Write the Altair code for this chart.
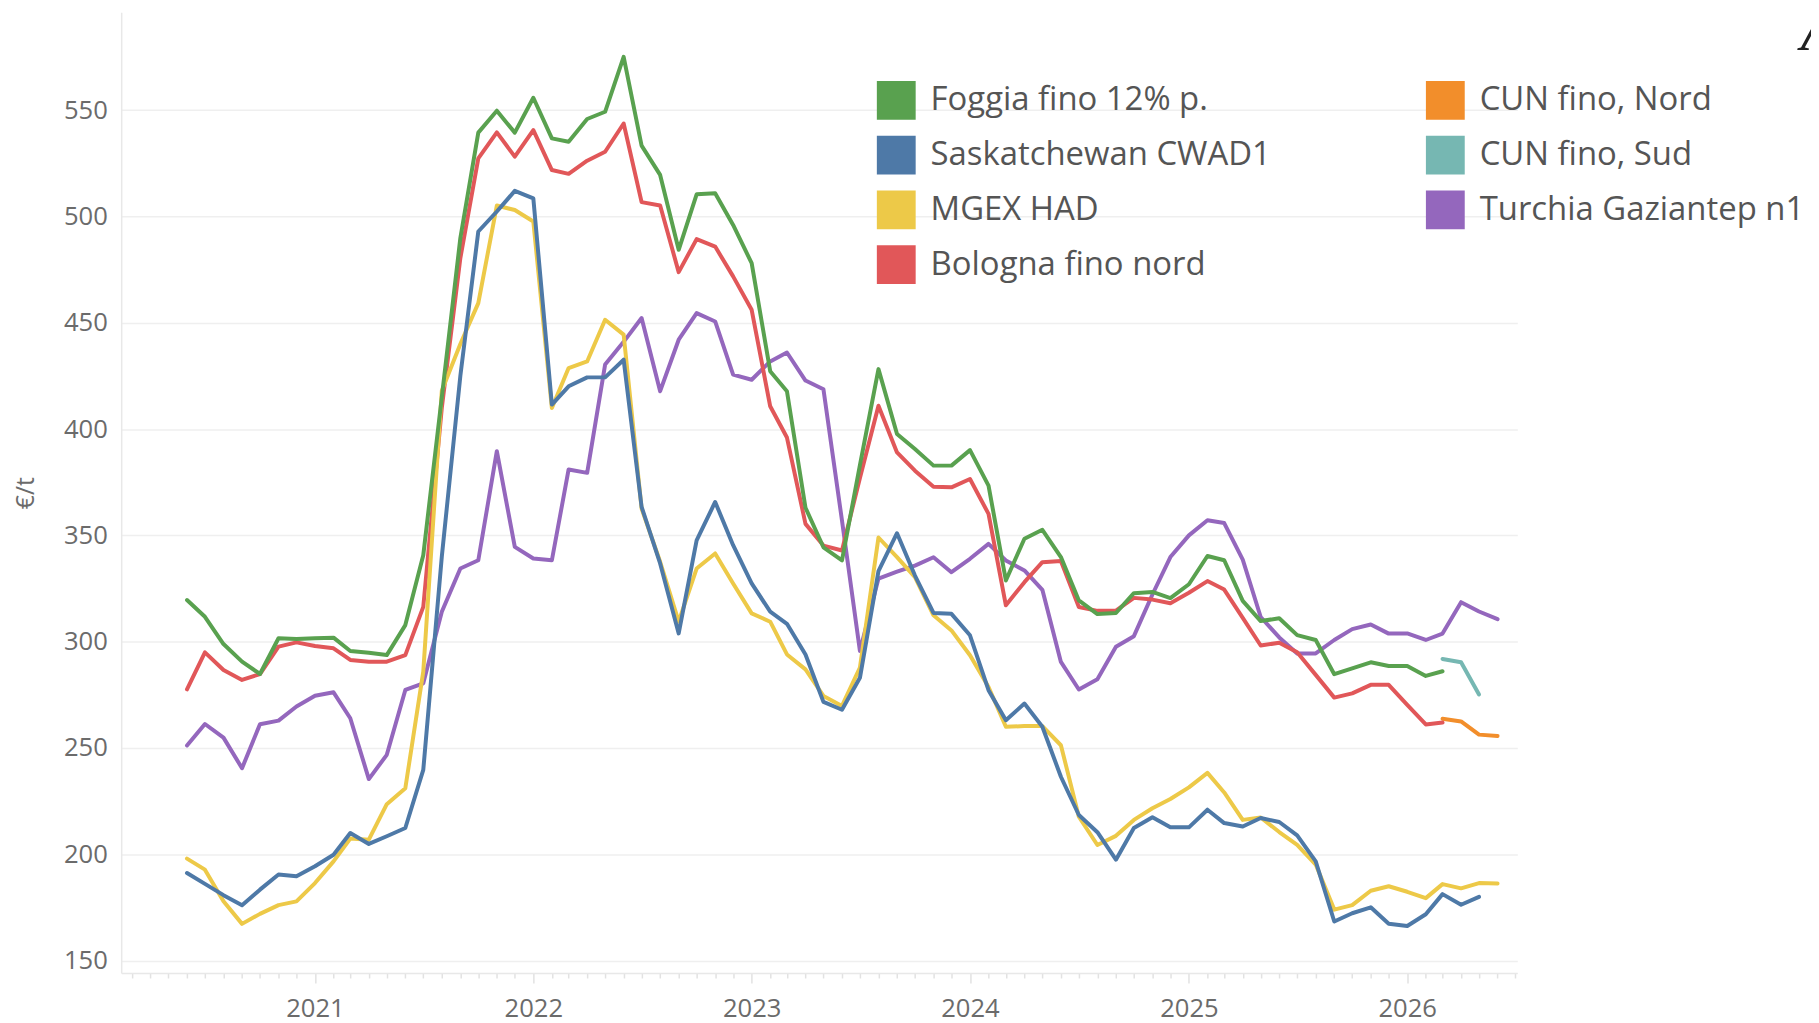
import altair as alt
import pandas as pd

# monthly observations, first month June 2020
start_month = "2020-06-01"
n_months = 73
months = pd.date_range(start_month, periods=n_months, freq="MS")

foggia = [319.6, 311.7, 298.9, 290.6, 284.8, 301.6, 301.3, 301.6, 301.9, 295.6, 294.8, 293.7,
          307.8, 340.7, 415, 489.8, 539.4, 549.7, 539.4, 555.8, 536.7, 535.1, 545.8, 549.2,
          575, 533.3, 519.5, 484.3, 510.4, 510.9, 496, 478, 427.2, 417.8, 363, 344.4,
          338.2, 383, 428.2, 397.7, 390.6, 382.8, 382.8, 390.1, 373.4, 328.8, 348.4, 352.6,
          339.8, 319.4, 313, 313.5, 322.8, 323.4, 320.5, 327, 340.3, 338.3, 319.2, 309.7,
          311, 303.1, 300.8, 284.7, 287.5, 290.3, 288.6, 288.6, 283.9, 286.1]
bologna = [277.6, 295, 286.7, 282, 284.8, 297.7, 299.7, 298, 296.9, 291.4, 290.6, 290.6,
           293.7, 316.4, 410, 480.4, 527.3, 539.5, 528.1, 540.6, 521.8, 520, 526.2, 530.4,
           543.7, 506.7, 505.1, 473.8, 489.3, 485.8, 471.8, 456.1, 410.7, 396, 355.4, 345.2,
           342.9, 377, 411, 389, 380.4, 372.9, 372.6, 376.5, 360.1, 317.1, 328, 337.4,
           337.9, 316.3, 314.5, 314.6, 320.6, 319.8, 318.1, 323, 328.5, 324.5, 311.2, 298.2,
           299.5, 295, 284.4, 273.7, 275.7, 279.7, 279.7, 270.3, 261.1, 262]
saskatchewan = [191.2, 186.1, 180.8, 176.1, 183.4, 190.5, 189.7, 194.4, 199.8, 210, 204.9, 208.5,
                212.4, 239.7, 340, 425, 492.9, 502.3, 512, 508.5, 411.5, 420.1, 424.3, 424.3,
                432.6, 363.4, 336.8, 303.9, 347.7, 365.7, 345.4, 327.4, 314.1, 308.4, 294, 271.7,
                268, 283, 333.2, 351, 331.1, 313.5, 313.1, 303, 277.2, 263.1, 270.9, 260,
                236.5, 218.5, 210.4, 197.5, 212.4, 217.4, 212.7, 212.7, 221, 214.7, 213.1, 217.1,
                215.2, 208.9, 196.7, 168.4, 172.3, 175.1, 167.4, 166.3, 171.8, 181.3, 176.3, 180]
mgex = [198, 192.8, 177.9, 167.3, 172, 176.1, 177.9, 186.5, 196.7, 207.4, 206.9, 223.6,
        231.1, 285.9, 418, 440, 459.2, 505.1, 503, 497.6, 409.9, 428.7, 431.8, 451.4,
        444.4, 362.6, 337.6, 309.4, 334.4, 341.5, 327.4, 313.3, 309.4, 294, 287, 274.5,
        269.8, 287.8, 349, 339.8, 330.4, 312.4, 305.3, 293.6, 278.7, 260, 260.3, 260.3,
        251.3, 217.7, 204.4, 208.7, 216.2, 221.7, 226, 231.5, 238.3, 229.1, 216.2, 217.3,
        210.5, 204.5, 195.2, 174, 176.1, 182.9, 185, 182.4, 179.4, 186, 184, 186.5, 186.3]
turchia = [251.2, 261.3, 254.9, 240.5, 261.2, 262.9, 269.5, 274.6, 276.2, 264, 235.4, 246.8,
           277.3, 280.4, 314.1, 334.4, 338.3, 389.6, 344.6, 339.1, 338.3, 381, 379.4, 430.3,
           441, 452.2, 417.8, 442, 454.5, 450.6, 425.6, 423.2, 431.8, 436, 422.8, 418.7,
           357, 295.6, 329.7, 332.9, 335.8, 339.7, 332.7, 339, 346, 338.2, 333.5, 324.4,
           290.5, 277.5, 282.3, 297.6, 302.6, 322.2, 339.8, 350, 357.1, 355.8, 338.6, 311.6,
           302, 294.5, 294.5, 300.8, 305.9, 308.1, 303.8, 303.9, 300.8, 303.8, 318.6, 314.2, 310.6]
cun_nord = [263.8, 262.5, 256.3, 255.7]   # from March 2026
cun_sud = [291.9, 290.3, 275.2]           # from March 2026

# legend order (filled column by column, 2 columns)
legend_order = ["Foggia fino 12% p.", "Saskatchewan CWAD1", "MGEX HAD", "Bologna fino nord",
                "CUN fino, Nord", "CUN fino, Sud", "Turchia Gaziantep n1"]
legend_colors = ["#59a14f", "#4e79a7", "#edc948", "#e15759", "#f28e2b", "#76b7b2", "#9467bd"]

# drawing order (bottom first)
series = [
    ("Turchia Gaziantep n1", 0, turchia),
    ("CUN fino, Sud", 69, cun_sud),
    ("CUN fino, Nord", 69, cun_nord),
    ("Bologna fino nord", 0, bologna),
    ("MGEX HAD", 0, mgex),
    ("Saskatchewan CWAD1", 0, saskatchewan),
    ("Foggia fino 12% p.", 0, foggia),
]

rows = []
for name, off, vals in series:
    for i, v in enumerate(vals):
        rows.append({"date": months[off + i].strftime("%Y-%m-%d"), "serie": name, "value": v})
df = pd.DataFrame(rows)

# rows used only to build the legend (no drawable value)
legend_df = pd.DataFrame({"date": [months[0].strftime("%Y-%m-%d")] * len(legend_order),
                          "serie": legend_order,
                          "value": [None] * len(legend_order)})

FONT = "Open Sans"
AXIS_GRAY = "#6b6b6b"

x_enc = alt.X(
    "date:T",
    scale=alt.Scale(type="utc", domain=[alt.DateTime(year=2020, month=2, date=12, utc=True),
                                        alt.DateTime(year=2026, month=7, date=4, utc=True)]),
    axis=alt.Axis(
        title=None, grid=False,
        tickCount={"interval": "month", "step": 1},
        labelExpr="utcmonth(datum.value) == 0 ? utcFormat(datum.value, '%Y') : ''",
        tickSize={"condition": {"test": "utcmonth(datum.value) == 0", "value": 10}, "value": 5},
        tickColor="#e2e2e2", tickWidth=1.5,
        domainColor="#e8e8e8", domainWidth=1.5,
        labelFont=FONT, labelFontSize=25.7, labelColor=AXIS_GRAY,
        labelPadding=13.5, labelOverlap=False, labelFlush=False,
    ),
)
y_enc = alt.Y(
    "value:Q",
    scale=alt.Scale(domain=[144.2, 596], nice=False, zero=False),
    axis=alt.Axis(
        values=[150, 200, 250, 300, 350, 400, 450, 500, 550],
        title="€/t", titleFont=FONT, titleFontSize=25, titleFontWeight="normal",
        titleColor=AXIS_GRAY, titlePadding=25,
        grid=True, gridColor="#efefef", gridWidth=1.5,
        domain=True, domainColor="#e8e8e8", domainWidth=1.5,
        ticks=False,
        labelFont=FONT, labelFontSize=25.7, labelColor=AXIS_GRAY, labelPadding=14,
    ),
)
color_scale = alt.Scale(domain=legend_order, range=legend_colors)
legend = alt.Legend(
    title=None, orient="none", legendX=759, legendY=69, columns=2,
    columnPadding=155.5, rowPadding=16, padding=0,
    symbolType="square", symbolSize=1521, symbolStrokeWidth=0, symbolOpacity=1,
    labelFont=FONT, labelFontSize=33, labelColor="#555555", labelOffset=15, labelLimit=800,
)
color_enc = alt.Color("serie:N", scale=color_scale, legend=legend)

legend_layer = alt.Chart(legend_df).mark_point(shape="square", filled=True, opacity=1, size=1521).encode(
    x=x_enc, y=y_enc, color=color_enc
)

base = alt.Chart(df).mark_line(strokeWidth=4, strokeJoin="round", strokeCap="round").encode(
    x=x_enc, y=y_enc, color=color_enc
)
layers = [base.transform_filter(alt.datum.serie == name) for name, _, _ in series]

glyph = alt.Chart(pd.DataFrame({"t": ["A"]})).mark_text(
    font="Liberation Serif", fontStyle="italic", fontSize=64, align="left",
    baseline="alphabetic", color="#222222"
).encode(x=alt.value(1687), y=alt.value(38), text="t:N")

chart = alt.layer(legend_layer, *layers, glyph).properties(
    width=1402.3, height=965,
    autosize=alt.AutoSizeParams(type="none"),
    padding={"left": 113.7, "top": 2, "right": 295, "bottom": 60},
    background="white",
).configure_view(stroke="transparent")

chart.save("out.html", embed_options={"renderer": "svg", "actions": False})
